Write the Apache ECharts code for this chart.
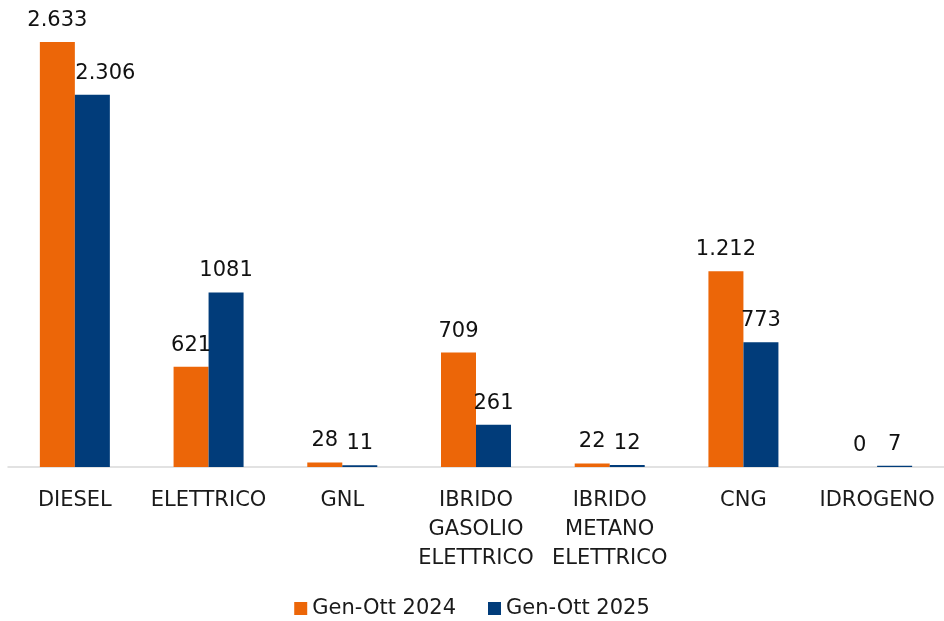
<!DOCTYPE html>
<html><head><meta charset="utf-8">
<script src="https://cdn.jsdelivr.net/npm/echarts@6/dist/echarts.min.js"></script>
<style>html,body{margin:0;padding:0;background:#fff}#c{width:944px;height:621px}</style>
</head><body><div id="c"></div>
<script>
const categories = ['DIESEL','ELETTRICO','GNL','IBRIDO\nGASOLIO\nELETTRICO','IBRIDO\nMETANO\nELETTRICO','CNG','IDROGENO'];
const seriesNames = ['Gen-Ott 2024','Gen-Ott 2025'];
const values2024 = [2633, 621, 28, 709, 22, 1212, 0];
const values2025 = [2306, 1081, 11, 261, 12, 773, 7];
const labels2024 = ['2.633','621','28','709','22','1.212','0'];
const labels2025 = ['2.306','1081','11','261','12','773','7'];

const FONT = 'DejaVu Sans';
const chart = echarts.init(document.getElementById('c'), null, {renderer:'canvas'});
function mkData(vals, labs, offsets){
  return vals.map((v,i)=>{
    const d = {value:v, label:{formatter:labs[i]}};
    if (offsets && offsets[i]) d.label.offset = offsets[i];
    return d;
  });
}
chart.setOption({
  animation:false,
  textStyle:{fontFamily:FONT},
  grid:{left:8,right:0,top:42,bottom:154,containLabel:false},
  xAxis:{type:'category',data:categories,
    axisLine:{lineStyle:{color:'#d9d9d9',width:1.5}},
    axisTick:{show:false},
    axisLabel:{interval:0,color:'#1a1a1a',fontSize:21,fontFamily:FONT,margin:19,lineHeight:29}},
  yAxis:{type:'value',min:0,max:2633,show:false,splitLine:{show:false}},
  legend:{top:598,left:'center',itemWidth:13,itemHeight:13,itemGap:32,icon:'rect',padding:0,
    textStyle:{fontSize:21,color:'#1a1a1a',fontFamily:FONT},data:seriesNames},
  series:[
    {name:seriesNames[0],type:'bar',barWidth:35,barGap:'0%',itemStyle:{color:'#EC6608'},
     label:{show:true,position:'top',distance:11,color:'#111',fontSize:21,fontFamily:FONT},
     data:mkData(values2024,labels2024)},
    {name:seriesNames[1],type:'bar',barWidth:35,barGap:'0%',itemStyle:{color:'#013C7A'},
     label:{show:true,position:'top',distance:11,color:'#111',fontSize:21,fontFamily:FONT},
     data:mkData(values2025,labels2025,[[13,0]])}
  ]
});
</script></body></html>
